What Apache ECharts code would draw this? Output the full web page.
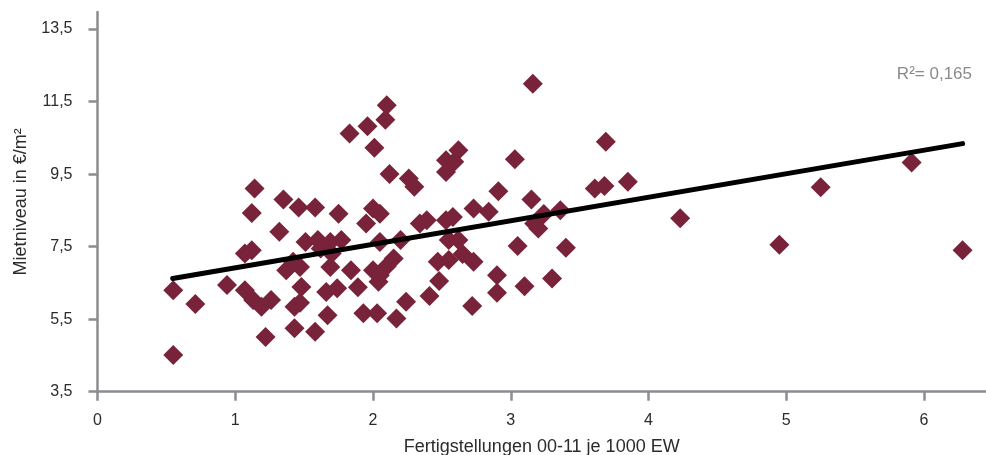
<!DOCTYPE html>
<html>
<head>
<meta charset="utf-8">
<script src="https://cdn.jsdelivr.net/npm/echarts@6/dist/echarts.min.js"></script>
<style>
    html, body { margin: 0; padding: 0; background: #fff; }
    #chart { width: 986px; height: 455px; }
</style>
</head>
<body>
<div id="chart"></div>
<script>
// Achsenbeschriftungen
var xTicks = [0, 1, 2, 3, 4, 5, 6];
var yTicks = [3.5, 5.5, 7.5, 9.5, 11.5, 13.5];
// Punkte: [Fertigstellungen je 1000 EW, Mietniveau]
var points = [
    [0.55, 6.30], [0.55, 4.51], [0.71, 5.92], [0.94, 6.44],
    [1.07, 7.31], [1.12, 7.40], [1.07, 6.30], [1.13, 6.03], [1.19, 5.84], [1.26, 6.03], [1.22, 5.01],
    [1.12, 8.43], [1.14, 9.10], [1.32, 7.91], [1.35, 8.80], [1.46, 8.58], [1.58, 8.58],
    [1.37, 6.85], [1.47, 6.94], [1.42, 7.08], [1.48, 6.39], [1.43, 5.84], [1.47, 5.95],
    [1.43, 5.25], [1.58, 5.15],
    [1.51, 7.63], [1.60, 7.68], [1.62, 7.45], [1.69, 7.63], [1.70, 7.31],
    [1.66, 6.25], [1.67, 5.61], [1.69, 6.94], [1.74, 6.35], [1.75, 8.41], [1.77, 7.68],
    [1.84, 6.85], [1.89, 6.38], [1.93, 5.66], [2.03, 5.66], [2.17, 5.52],
    [1.83, 10.62], [1.96, 10.82], [2.01, 10.23], [2.09, 11.00], [2.10, 11.40], [2.12, 9.50],
    [2.26, 9.38], [2.30, 9.15],
    [1.95, 8.14], [2.00, 8.55], [2.05, 8.41], [2.05, 7.63], [2.20, 7.68], [2.15, 7.17],
    [2.10, 6.96], [2.00, 6.85], [2.05, 6.71], [2.04, 6.53],
    [2.24, 5.98], [2.34, 8.14], [2.39, 8.23], [2.41, 6.14], [2.48, 6.55], [2.47, 7.08], [2.55, 7.13],
    [2.53, 9.88], [2.62, 10.16], [2.53, 9.56], [2.59, 9.84], [2.53, 8.23], [2.58, 8.32],
    [2.55, 7.68], [2.62, 7.68], [2.65, 7.30], [2.73, 7.08], [2.72, 5.86],
    [2.73, 8.55], [2.84, 8.46], [2.91, 9.03], [2.90, 6.71], [2.90, 6.23],
    [3.03, 9.91], [3.05, 7.52], [3.10, 6.41], [3.16, 11.99], [3.15, 8.80], [3.24, 8.40],
    [3.36, 8.50], [3.17, 8.14], [3.20, 8.00], [3.30, 6.62], [3.40, 7.47],
    [3.61, 9.10], [3.68, 9.17], [3.69, 10.39], [3.85, 9.29], [4.23, 8.28],
    [4.95, 7.55], [5.25, 9.14], [5.91, 9.82], [6.28, 7.40]
];
// lineare Trendlinie (Anfang und Ende)
var trend = [[0.546, 6.62], [6.28, 10.34]];
var rSquared = 'R²= 0,165';

var axisGray = '#8c8c91';
var textColor = '#2b2b2b';
var fontName = 'Liberation Sans';

var chart = echarts.init(document.getElementById('chart'));
chart.setOption({
    animation: false,
    grid: {
        left: 97.5,
        right: 0,
        top: 12,
        bottom: 63.3,
        outerBoundsMode: 'none'
    },
    xAxis: {
        type: 'value',
        min: 0,
        max: 6.45,
        name: 'Fertigstellungen 00-11 je 1000 EW',
        nameLocation: 'middle',
        nameGap: 46,
        nameTextStyle: { color: textColor, fontSize: 18, fontFamily: fontName },
        axisLine: { lineStyle: { color: axisGray, width: 2.5 } },
        axisTick: { show: true, length: 9, customValues: xTicks, lineStyle: { color: axisGray, width: 2.5 } },
        axisLabel: { customValues: xTicks, margin: 21, color: textColor, fontSize: 16, fontFamily: fontName },
        splitLine: { show: false }
    },
    yAxis: {
        type: 'value',
        min: 3.5,
        max: 13.97,
        name: 'Mietniveau in €/m²',
        nameLocation: 'middle',
        nameGap: 67,
        nameTextStyle: { color: textColor, fontSize: 18, fontFamily: fontName },
        axisLine: { show: true, lineStyle: { color: axisGray, width: 2.5 } },
        axisTick: { show: true, length: 9, customValues: yTicks, lineStyle: { color: axisGray, width: 2.5 } },
        axisLabel: {
            customValues: yTicks,
            margin: 25,
            color: textColor,
            fontSize: 16,
            fontFamily: fontName,
            formatter: function (v) {
                return v.toFixed(1).replace('.', ',');
            }
        },
        splitLine: { show: false }
    },
    graphic: [{
        type: 'text',
        right: 14,
        top: 66,
        style: { text: rSquared, fill: '#8a8a8a', fontSize: 17, fontFamily: fontName }
    }],
    series: [
        {
            type: 'scatter',
            data: points,
            symbol: 'diamond',
            symbolSize: 20,
            itemStyle: { color: '#79233b', opacity: 1 }
        },
        {
            type: 'line',
            data: trend,
            symbol: 'none',
            lineStyle: { color: '#000', width: 5, cap: 'round' },
            z: 3
        }
    ]
});
</script>
</body>
</html>
